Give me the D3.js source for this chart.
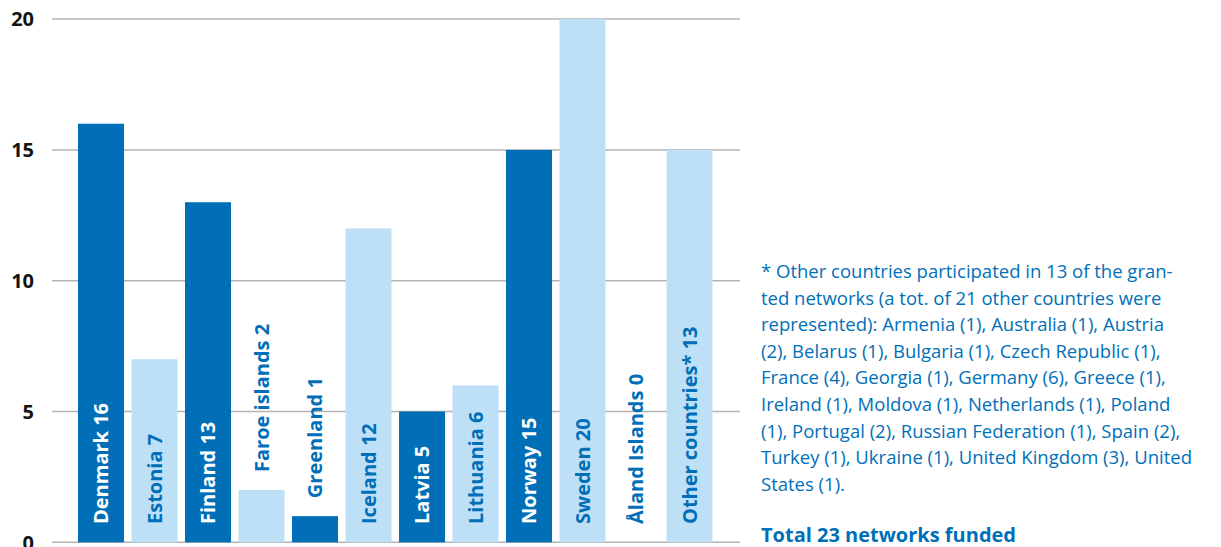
<!DOCTYPE html>
<html>
<head>
<meta charset="utf-8">
<script src="https://cdn.jsdelivr.net/npm/d3@7/dist/d3.min.js"></script>
<style>
  body { margin: 0; background: #fff; }
  svg { display: block; font-family: "Open Sans", sans-serif; }
  .grid line { stroke: #b3b3b3; stroke-width: 1.5; }
  .tick-label { font-weight: 700; font-size: 20px; fill: #141414; }
  .bar-label { font-weight: 700; font-size: 20px; }
  .note { font-size: 18.5px; fill: #0070b8; }
</style>
</head>
<body>
<div id="chart"></div>
<script>
// data
var countries = ['Denmark', 'Estonia', 'Finland', 'Faroe islands', 'Greenland', 'Iceland',
  'Latvia', 'Lithuania', 'Norway', 'Sweden', 'Åland Islands', 'Other countries*'];
var networks = [16, 7, 13, 2, 1, 12, 5, 6, 15, 20, 0, 15];
// the number printed in each label (the last bar's label says 13, its bar reaches 15)
var labelNumbers = [16, 7, 13, 2, 1, 12, 5, 6, 15, 20, 0, 13];
var darkBar = [true, false, true, false, true, false, true, false, true, false, true, false];
var yTicks = [0, 5, 10, 15, 20];

var noteLines = [
  '* Other countries participated in 13 of the gran-',
  'ted networks (a tot. of 21 other countries were',
  'represented): Armenia (1), Australia (1), Austria',
  '(2), Belarus (1), Bulgaria (1), Czech Republic (1),',
  'France (4), Georgia (1), Germany (6), Greece (1),',
  'Ireland (1), Moldova (1), Netherlands (1), Poland',
  '(1), Portugal (2), Russian Federation (1), Spain (2),',
  'Turkey (1), Ukraine (1), United Kingdom (3), United',
  'States (1).'
];
var totalText = 'Total 23 networks funded';

var width = 1221, height = 547;
var darkBlue = '#006fb7', lightBlue = '#bee0f6';

var svg = d3.select('#chart').append('svg')
  .attr('width', width)
  .attr('height', height);

var x = d3.scaleBand()
  .domain(countries)
  .range([70.5, 720])
  .padding(0.14);

var y = d3.scaleLinear()
  .domain([0, 20])
  .range([542.3, 19.1]);

// gridlines
svg.append('g').attr('class', 'grid')
  .selectAll('line')
  .data(yTicks)
  .enter().append('line')
  .attr('x1', 52)
  .attr('x2', 740)
  .attr('y1', d => y(d))
  .attr('y2', d => y(d));

svg.append('g')
  .selectAll('text')
  .data(yTicks)
  .enter().append('text')
  .attr('class', 'tick-label')
  .attr('x', 34)
  .attr('y', d => y(d))
  .attr('dy', '0.36em')
  .attr('text-anchor', 'end')
  .text(d => d);

var rows = countries.map((c, i) => ({
  name: c, value: networks[i], label: labelNumbers[i], dark: darkBar[i]
}));

svg.append('g')
  .selectAll('rect')
  .data(rows)
  .enter().append('rect')
  .attr('x', d => x(d.name))
  .attr('width', x.bandwidth())
  .attr('y', d => y(d.value))
  .attr('height', d => y(0) - y(d.value))
  .attr('fill', d => d.dark ? darkBlue : lightBlue);

// labels, rotated; labels that don't fit go above the bar
var labelBase = 524;
var labels = svg.append('g')
  .selectAll('text')
  .data(rows)
  .enter().append('text')
  .attr('class', 'bar-label')
  .attr('dy', '0.36em')
  .text(d => d.name + ' ' + d.label);

labels.each(function (d) {
  var len = this.getComputedTextLength();
  d.inside = (labelBase - len) > y(d.value);
  d.start = d.inside ? labelBase : Math.min(labelBase, y(d.value) - 18);
});

labels
  .attr('transform', d => 'translate(' + (x(d.name) + x.bandwidth() / 2) + ',' + d.start + ') rotate(-90)')
  .attr('fill', d => (d.dark && d.inside) ? '#fff' : darkBlue);

var note = svg.append('text')
  .attr('class', 'note')
  .attr('x', 761)
  .attr('y', 278);

note.selectAll('tspan')
  .data(noteLines)
  .enter().append('tspan')
  .attr('x', 761)
  .attr('dy', (d, i) => i === 0 ? 0 : 26.6)
  .text(d => d);

svg.append('text')
  .attr('x', 761)
  .attr('y', 542)
  .attr('fill', darkBlue)
  .style('font-weight', 700)
  .style('font-size', '20px')
  .text(totalText);
</script>
</body>
</html>
